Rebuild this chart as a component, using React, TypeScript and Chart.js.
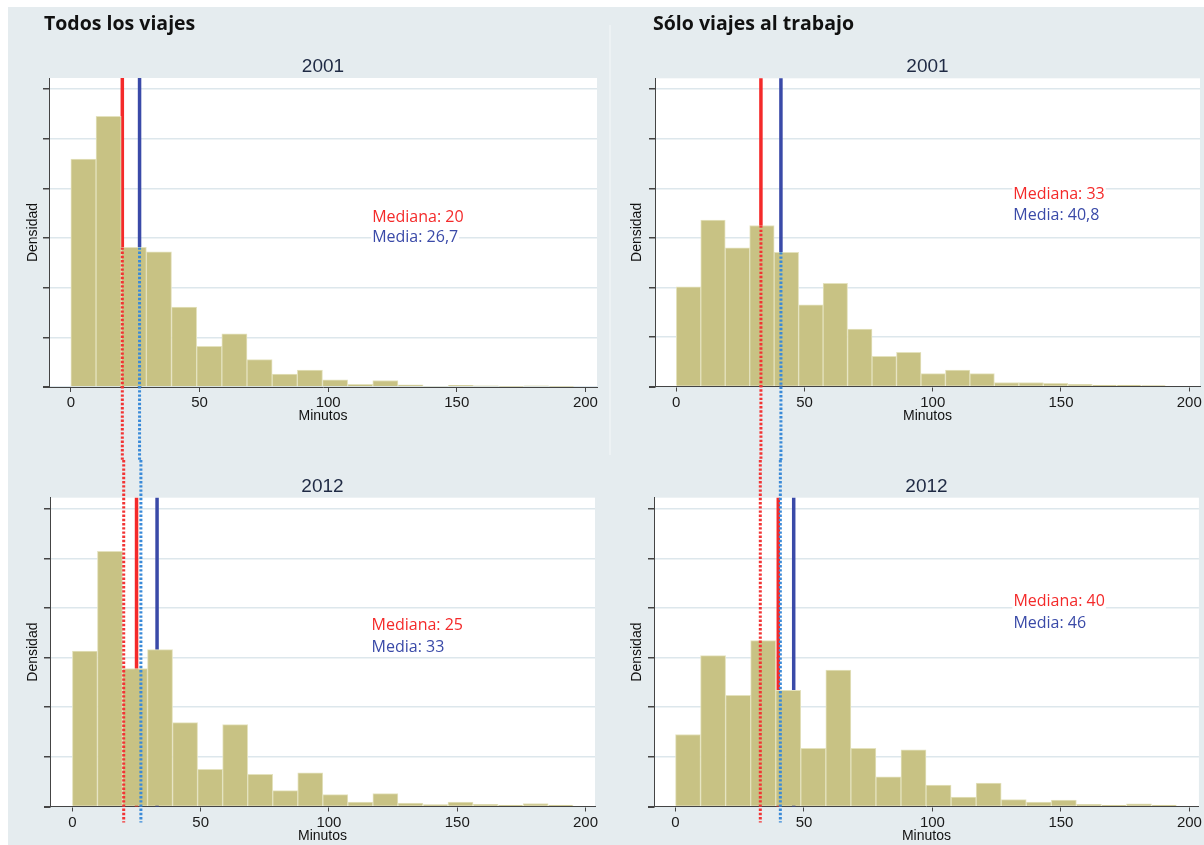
import React, { useEffect, useRef } from "react";
import { Chart, registerables } from "chart.js";

Chart.register(...registerables);

// ---------------- data ----------------
const minuteTicks = [0, 50, 100, 150, 200];
const densityTicks = [0, 1, 2, 3, 4, 5, 6];

const binWidthTodos2001 = 9.78;
const binWidthTodos2012 = 9.76;
const binWidthTrabajo2001 = 9.54;
const binWidthTrabajo2012 = 9.75;

// relative density (1 = one y-tick interval), one value per bin
const todos2001 = [4.59, 5.45, 2.81, 2.72, 1.61, 0.82, 1.07, 0.55, 0.26, 0.34, 0.145, 0.056, 0.13, 0.045, 0.015, 0.036, 0.025, 0.012, 0.025, 0.01];
const todos2012 = [3.13, 5.14, 2.78, 3.16, 1.69, 0.75, 1.65, 0.65, 0.32, 0.68, 0.24, 0.09, 0.26, 0.07, 0.04, 0.09, 0.045, 0.03, 0.06, 0.03];
const trabajo2001 = [2.01, 3.36, 2.8, 3.25, 2.71, 1.65, 2.08, 1.16, 0.61, 0.69, 0.26, 0.33, 0.26, 0.08, 0.08, 0.065, 0.045, 0.03, 0.03, 0.02];
const trabajo2012 = [1.45, 3.04, 2.24, 3.34, 2.34, 1.17, 2.75, 1.17, 0.6, 1.14, 0.43, 0.19, 0.47, 0.14, 0.09, 0.13, 0.045, 0.03, 0.055, 0.03];

const medianaTodos2001 = 20;
const mediaTodos2001 = 26.7;
const medianaTodos2012 = 25;
const mediaTodos2012 = 33;
const medianaTrabajo2001 = 33;
const mediaTrabajo2001 = 40.8;
const medianaTrabajo2012 = 40;
const mediaTrabajo2012 = 46;

const medianaTodos2001Label = "Mediana: 20";
const mediaTodos2001Label = "Media: 26,7";
const medianaTodos2012Label = "Mediana: 25";
const mediaTodos2012Label = "Media: 33";
const medianaTrabajo2001Label = "Mediana: 33";
const mediaTrabajo2001Label = "Media: 40,8";
const medianaTrabajo2012Label = "Mediana: 40";
const mediaTrabajo2012Label = "Media: 46";

const headerTodos = "Todos los viajes";
const headerTrabajo = "Sólo viajes al trabajo";
const year2001 = "2001";
const year2012 = "2012";
const xTitle = "Minutos";
const yTitle = "Densidad";

// ---------------- styles ----------------
const RED = "#f42a2a";
const BLUE = "#3a4aa8";
const RED_DOT = "#f23434";
const BLUE_DOT = "#3a8ad8";
const BAR = "rgb(200,194,132)";
const BAR_EDGE = "rgb(228,226,190)";
const GRID = "#dde7ec";
const AXIS = "#444";
const BG = "#e5ecef";

type Panel = {
  left: number; top: number; width: number; height: number;
  padTop: number; padBottom: number; padRight: number; yWidth: number;
  xMin: number; xMax: number; yMax: number;
  header?: string; headerX: number;
  year: string; values: number[]; binWidth: number;
  mediana: number; media: number; medianaLabel: string; mediaLabel: string;
  prevMediana?: number; prevMedia?: number;
  labelX: number; labelY: number; lineGap: number;
  isTop: boolean;
};

const panels: Panel[] = [
  {
    left: 0, top: 0, width: 604, height: 460, padTop: 78, padBottom: 35, padRight: 7, yWidth: 49,
    xMin: -8.5, xMax: 204.5, yMax: 6.22, header: headerTodos, headerX: 44,
    year: year2001, values: todos2001, binWidth: binWidthTodos2001,
    mediana: medianaTodos2001, media: mediaTodos2001,
    medianaLabel: medianaTodos2001Label, mediaLabel: mediaTodos2001Label,
    labelX: 117.1, labelY: 3.32, lineGap: 19.5, isTop: true,
  },
  {
    left: 604, top: 0, width: 600, height: 460, padTop: 78.3, padBottom: 35.5, padRight: 4, yWidth: 51,
    xMin: -8.3, xMax: 204.2, yMax: 6.22, header: headerTrabajo, headerX: 49,
    year: year2001, values: trabajo2001, binWidth: binWidthTrabajo2001,
    mediana: medianaTrabajo2001, media: mediaTrabajo2001,
    medianaLabel: medianaTrabajo2001Label, mediaLabel: mediaTrabajo2001Label,
    labelX: 131.4, labelY: 3.79, lineGap: 21.5, isTop: true,
  },
  {
    left: 0, top: 460, width: 604, height: 385, padTop: 37.7, padBottom: 0.5, padRight: 9, yWidth: 50,
    xMin: -8.73, xMax: 203.7, yMax: 6.22, headerX: 0,
    year: year2012, values: todos2012, binWidth: binWidthTodos2012,
    mediana: medianaTodos2012, media: mediaTodos2012,
    medianaLabel: medianaTodos2012Label, mediaLabel: mediaTodos2012Label,
    prevMediana: medianaTodos2001, prevMedia: mediaTodos2001,
    labelX: 116.6, labelY: 3.56, lineGap: 22, isTop: false,
  },
  {
    left: 604, top: 460, width: 600, height: 385, padTop: 37.7, padBottom: 0.5, padRight: 5, yWidth: 50,
    xMin: -8.37, xMax: 203.7, yMax: 6.22, headerX: 0,
    year: year2012, values: trabajo2012, binWidth: binWidthTrabajo2012,
    mediana: medianaTrabajo2012, media: mediaTrabajo2012,
    medianaLabel: medianaTrabajo2012Label, mediaLabel: mediaTrabajo2012Label,
    prevMediana: medianaTrabajo2001, prevMedia: mediaTrabajo2001,
    labelX: 131.5, labelY: 4.04, lineGap: 22.5, isTop: false,
  },
];

function makePlugin(p: Panel) {
  const vLine = (ctx: CanvasRenderingContext2D, x: number, y1: number, y2: number, color: string, w: number, dash: number[]) => {
    ctx.save();
    ctx.strokeStyle = color;
    ctx.lineWidth = w;
    ctx.setLineDash(dash);
    ctx.beginPath();
    ctx.moveTo(x, y1);
    ctx.lineTo(x, y2);
    ctx.stroke();
    ctx.restore();
  };
  return {
    id: "panelDecor",
    beforeDraw(chart: any) {
      const { ctx, chartArea: a } = chart;
      ctx.save();
      ctx.fillStyle = "#ffffff";
      ctx.fillRect(a.left, a.top, a.right - a.left, a.bottom - a.top);
      ctx.restore();
    },
    beforeDatasetsDraw(chart: any) {
      const { ctx, chartArea: a, scales } = chart;
      vLine(ctx, scales.x.getPixelForValue(p.mediana), a.top, a.bottom, RED, 3.5, []);
      vLine(ctx, scales.x.getPixelForValue(p.media), a.top, a.bottom, BLUE, 3.5, []);
    },
    afterDatasetsDraw(chart: any) {
      const { ctx, chartArea: a, scales } = chart;
      const dash = [2.4, 1.8];
      if (p.isTop) {
        const yTop = (v: number) => scales.y.getPixelForValue(p.values[Math.floor(v / p.binWidth)]);
        vLine(ctx, scales.x.getPixelForValue(p.mediana), yTop(p.mediana), chart.height, RED_DOT, 3, dash);
        vLine(ctx, scales.x.getPixelForValue(p.media), yTop(p.media), chart.height, BLUE_DOT, 3, dash);
      } else {
        vLine(ctx, scales.x.getPixelForValue(p.prevMediana as number), 0, a.bottom + 16, RED_DOT, 3, dash);
        vLine(ctx, scales.x.getPixelForValue(p.prevMedia as number), 0, a.bottom + 16, BLUE_DOT, 3, dash);
      }
    },
    afterDraw(chart: any) {
      const { ctx, chartArea: a, scales } = chart;
      ctx.save();
      // x-axis line extension to the left, like the reference
      ctx.strokeStyle = AXIS;
      ctx.lineWidth = 1;
      ctx.beginPath();
      ctx.moveTo(a.left - 6, Math.round(a.bottom) + 0.5);
      ctx.lineTo(a.left, Math.round(a.bottom) + 0.5);
      ctx.stroke();
      // year title
      ctx.font = '19px "Liberation Sans", Arial, sans-serif';
      ctx.fillStyle = "#1f2a44";
      ctx.textAlign = "center";
      ctx.textBaseline = "alphabetic";
      ctx.fillText(p.year, (a.left + a.right) / 2, a.top - 6);
      // header
      if (p.header) {
        ctx.font = 'bold 19.5px "Open Sans", sans-serif';
        ctx.fillStyle = "#111";
        ctx.textAlign = "left";
        ctx.fillText(p.header, p.headerX, 30);
      }
      // annotations
      ctx.font = '16px "Open Sans", sans-serif';
      ctx.textAlign = "left";
      const x = scales.x.getPixelForValue(p.labelX);
      const y = scales.y.getPixelForValue(p.labelY);
      const lines: [string, string, number][] = [
        [p.medianaLabel, RED, y],
        [p.mediaLabel, BLUE, y + p.lineGap],
      ];
      lines.forEach(([t, c, yy]) => {
        const w = ctx.measureText(t).width;
        ctx.fillStyle = "#ffffff";
        ctx.fillRect(x - 1, yy - 13, w + 2, 17);
        ctx.fillStyle = c;
        ctx.fillText(t, x, yy);
      });
      ctx.restore();
    },
  };
}

function buildChart(canvas: HTMLCanvasElement, p: Panel) {
  return new Chart(canvas, {
    type: "bar",
    data: {
      datasets: [
        {
          data: p.values.map((v, i) => ({ x: (i + 0.5) * p.binWidth, y: v })),
          backgroundColor: BAR,
          borderColor: BAR_EDGE,
          borderWidth: 1,
          borderSkipped: "bottom",
          barPercentage: 1,
          categoryPercentage: 1,
        } as any,
      ],
    },
    options: {
      responsive: false,
      animation: false,
      devicePixelRatio: 1,
      events: [],
      layout: { padding: { top: p.padTop, bottom: p.padBottom, left: 0, right: p.padRight } },
      plugins: { legend: { display: false }, tooltip: { enabled: false }, title: { display: false } },
      scales: {
        x: {
          type: "linear",
          min: p.xMin,
          max: p.xMax,
          offset: false,
          afterBuildTicks: (s: any) => { s.ticks = minuteTicks.map((v) => ({ value: v })); },
          afterFit: (s: any) => { s.height = 38; },
          ticks: {
            autoSkip: false,
            maxRotation: 0,
            padding: 2,
            color: "#1a1a1a",
            font: { family: '"Liberation Sans", Arial, sans-serif', size: 15 },
          },
          grid: { display: true, drawOnChartArea: false, drawTicks: true, tickLength: 5, tickColor: AXIS, offset: false },
          border: { display: true, color: AXIS, width: 1 },
          title: {
            display: true,
            text: xTitle,
            color: "#111",
            font: { family: '"Liberation Sans", Arial, sans-serif', size: 14 },
            padding: { top: 0, bottom: 0 },
          },
        },
        y: {
          type: "linear",
          min: 0,
          max: p.yMax,
          afterBuildTicks: (s: any) => { s.ticks = densityTicks.map((v) => ({ value: v })); },
          afterFit: (s: any) => { s.width = p.yWidth; },
          ticks: { display: false },
          grid: { color: GRID, lineWidth: 1.5, drawTicks: true, tickLength: 6, tickColor: AXIS },
          border: { display: true, color: AXIS, width: 1 },
          title: {
            display: true,
            text: yTitle,
            color: "#111",
            font: { family: '"Liberation Sans", Arial, sans-serif', size: 14 },
            padding: { top: 24.6, bottom: 0 },
          },
        },
      },
    } as any,
    plugins: [makePlugin(p) as any],
  });
}

export default function App() {
  const refs = [useRef<HTMLCanvasElement>(null), useRef<HTMLCanvasElement>(null), useRef<HTMLCanvasElement>(null), useRef<HTMLCanvasElement>(null)];
  useEffect(() => {
    const charts = panels.map((p, i) => buildChart(refs[i].current as HTMLCanvasElement, p));
    return () => charts.forEach((c) => c.destroy());
  }, []);
  return (
    <div style={{ position: "absolute", left: 0, top: 0, width: 1204, height: 845, background: "#ffffff", overflow: "hidden" }}>
      <div style={{ position: "absolute", left: 8, top: 7, right: 0, bottom: 0, background: BG }} />
      <div style={{ position: "absolute", left: 609, top: 25, width: 2, height: 430, background: "#edf2f4" }} />
      {panels.map((p, i) => (
        <canvas
          key={i}
          ref={refs[i]}
          width={p.width}
          height={p.height}
          style={{ position: "absolute", left: p.left, top: p.top, width: p.width, height: p.height, display: "block" }}
        />
      ))}
    </div>
  );
}
